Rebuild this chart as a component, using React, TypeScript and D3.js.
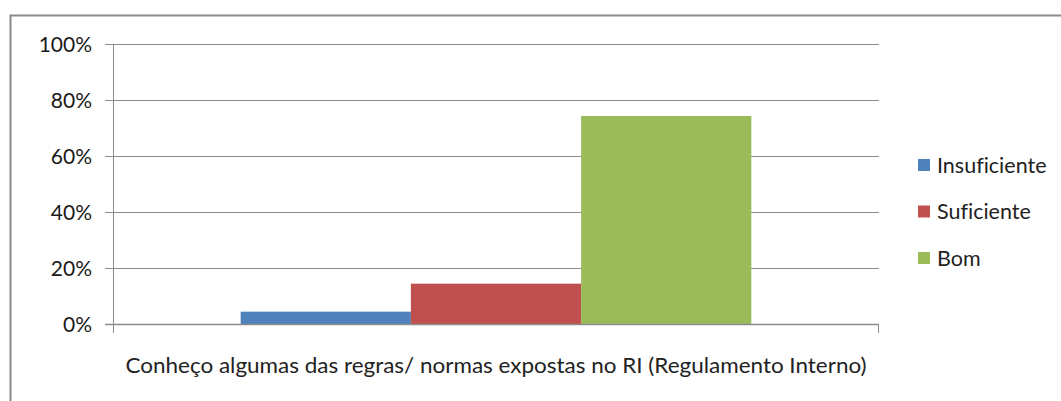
import React, { useEffect, useRef } from 'react';
import * as d3 from 'd3';

const categories = ['Conheço algumas das regras/ normas expostas no RI (Regulamento Interno)'];
const seriesNames = ['Insuficiente', 'Suficiente', 'Bom'];
const seriesValues = [0.044, 0.144, 0.743];
const seriesColors = ['#4F81BD', '#C0504D', '#9BBB59'];
const yTickValues = [0, 0.2, 0.4, 0.6, 0.8, 1];

const W = 1061;
const H = 401;
const FONT = "Lato, 'Open Sans', sans-serif";

const App: React.FC = () => {
  const svgRef = useRef<SVGSVGElement | null>(null);

  useEffect(() => {
    if (!svgRef.current) return;
    const svg = d3.select(svgRef.current);
    svg.selectAll('*').remove();

    const plot = { left: 113, right: 879, top: 44, bottom: 324 };

    // outer frame (runs off the right and bottom edges)
    svg.append('rect')
      .attr('x', 10.5).attr('y', 15.5)
      .attr('width', W + 10).attr('height', H + 10)
      .attr('fill', 'white')
      .attr('stroke', '#8a8a8a')
      .attr('stroke-width', 2);

    const y = d3.scaleLinear().domain([0, 1]).range([plot.bottom, plot.top]);
    const x0 = d3.scaleBand<string>().domain(categories).range([plot.left, plot.right]);
    const x1 = d3.scaleBand<string>()
      .domain(seriesNames)
      .range([0, x0.bandwidth()])
      .paddingInner(0)
      .paddingOuter(0.75);

    // gridlines + y ticks
    const g = svg.append('g');
    yTickValues.forEach((t) => {
      const yy = Math.round(y(t)) + 0.5;
      g.append('line')
        .attr('x1', plot.left - 8).attr('x2', plot.right)
        .attr('y1', yy).attr('y2', yy)
        .attr('stroke', '#8c8c8c')
        .attr('stroke-width', 1);
      g.append('text')
        .attr('x', 92).attr('y', yy)
        .attr('dy', '0.35em')
        .attr('text-anchor', 'end')
        .attr('font-family', FONT)
        .attr('font-size', 21)
        .attr('fill', '#1a1a1a')
        .text(d3.format('.0%')(t));
    });

    // bars
    categories.forEach((c) => {
      seriesNames.forEach((s, i) => {
        const bx = (x0(c) ?? 0) + (x1(s) ?? 0);
        svg.append('rect')
          .attr('x', bx).attr('y', y(seriesValues[i]))
          .attr('width', x1.bandwidth())
          .attr('height', y(0) - y(seriesValues[i]))
          .attr('fill', seriesColors[i]);
      });
    });

    // axes
    svg.append('line')
      .attr('x1', plot.left + 0.5).attr('x2', plot.left + 0.5)
      .attr('y1', plot.top).attr('y2', plot.bottom + 9)
      .attr('stroke', '#8c8c8c');
    svg.append('line')
      .attr('x1', plot.left - 8).attr('x2', plot.right)
      .attr('y1', plot.bottom + 0.5).attr('y2', plot.bottom + 0.5)
      .attr('stroke', '#8c8c8c').attr('stroke-width', 1.5);
    svg.append('line')
      .attr('x1', plot.right - 0.5).attr('x2', plot.right - 0.5)
      .attr('y1', plot.bottom).attr('y2', plot.bottom + 9)
      .attr('stroke', '#8c8c8c');

    // category label
    categories.forEach((c) => {
      svg.append('text')
        .attr('x', (x0(c) ?? 0) + x0.bandwidth() / 2)
        .attr('y', 366)
        .attr('dy', '0.35em')
        .attr('text-anchor', 'middle')
        .attr('font-family', FONT)
        .attr('font-size', 21)
        .attr('fill', '#222')
        .style('font-variant-ligatures', 'none')
        .attr('textLength', 741)
        .attr('lengthAdjust', 'spacingAndGlyphs')
        .text(c);
    });

    // legend
    const legendY = d3.scalePoint<string>().domain(seriesNames).range([165, 258]);
    seriesNames.forEach((s, i) => {
      const ly = legendY(s) ?? 0;
      svg.append('rect')
        .attr('x', 918).attr('y', ly - 6)
        .attr('width', 12).attr('height', 12)
        .attr('fill', seriesColors[i]);
      svg.append('text')
        .attr('x', 937).attr('y', ly)
        .attr('dy', '0.35em')
        .attr('font-family', FONT)
        .attr('font-size', 21.5)
        .attr('fill', '#222')
        .style('font-variant-ligatures', 'none')
        .text(s);
    });
  }, []);

  return (
    <svg
      ref={svgRef}
      width={W}
      height={H}
      style={{ position: 'absolute', left: 0, top: 0, background: 'white' }}
    />
  );
};

export default App;
